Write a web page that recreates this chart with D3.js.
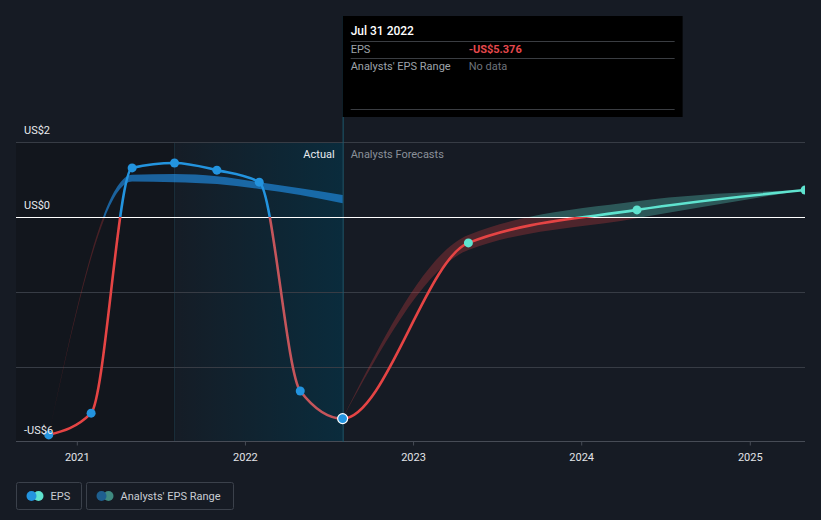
<!DOCTYPE html>
<meta charset="utf-8">
<style>

body {
  margin: 0;
  background-color: #161b24;
  overflow: hidden;
  font-family: Roboto, "Open Sans", sans-serif;
}

</style>
<body>

<script src="https://d3js.org/d3.v7.min.js"></script>
<script>
// Reported trailing EPS (quarterly)
var actualDates = ["2020-10-31", "2021-01-31", "2021-04-30", "2021-07-31", "2021-10-31", "2022-01-31", "2022-04-30", "2022-07-31"];
var actualEps = [-5.81, -5.23, 1.31, 1.44, 1.25, 0.93, -4.64, -5.376];

// Analyst consensus going forward
var forecastDates = ["2023-04-30", "2024-04-30", "2025-04-30"];
var forecastEps = [-0.69, 0.19, 0.72];

// Past analyst estimate range
var pastRangeDates = ["2020-10-31", "2021-04-30", "2021-07-31", "2021-10-31", "2022-01-31", "2022-04-30", "2022-07-31"];
var pastRangeLow = [-5.81, 0.95, 0.93, 0.88, 0.75, 0.59, 0.37];
var pastRangeHigh = [-5.81, 1.13, 1.15, 1.09, 0.93, 0.77, 0.59];

// Forecast range
var rangeDates = ["2022-07-31", "2023-04-30", "2024-04-30", "2025-04-30"];
var rangeLow = [-5.376, -0.88, -0.03, 0.72];
var rangeHigh = [-5.376, -0.48, 0.42, 0.72];

var yTicks = [2, 0, -2, -4, -6];
var yLabels = {"2": "US$2", "0": "US$0", "-6": "-US$6"};
var xTicks = ["2021-01-01", "2022-01-01", "2023-01-01", "2024-01-01", "2025-01-01"];

var width = 821, height = 520;
var plotLeft = 16, plotRight = 805, plotTop = 142, plotBottom = 442;

var parse = d3.timeParse("%Y-%m-%d");

var x = d3.scaleTime()
    .domain([parse("2021-01-01"), parse("2025-01-01")])
    .range([77.3, 750.3]);

var y = d3.scaleLinear()
    .domain([-6, 2])
    .range([plotBottom, plotTop]);

var today = parse("2022-07-31");
var yearAgo = parse("2021-07-31");

var svg = d3.select("body").append("svg")
    .attr("width", width)
    .attr("height", height);

var defs = svg.append("defs");

var grad = defs.append("linearGradient")
    .attr("id", "hl")
    .attr("x1", 0).attr("x2", 1).attr("y1", 0).attr("y2", 0);
grad.append("stop").attr("offset", 0).attr("stop-color", "#003950").attr("stop-opacity", 0.05);
grad.append("stop").attr("offset", 1).attr("stop-color", "#003950").attr("stop-opacity", 0.55);

function clip(id, x0, x1, y0, y1) {
  defs.append("clipPath").attr("id", id)
    .append("rect")
      .attr("x", x0).attr("y", y0)
      .attr("width", x1 - x0).attr("height", y1 - y0);
}

clip("plot", plotLeft, plotRight, 0, plotBottom);
clip("pos", plotLeft, plotRight, 0, y(0));
clip("neg", plotLeft, plotRight, y(0), plotBottom);
clip("posPast", plotLeft, x(today), 0, y(0));
clip("posFut", x(today), plotRight, 0, y(0));
clip("negOld", plotLeft, x(yearAgo), y(0), plotBottom);
clip("negHl", x(yearAgo), x(today), y(0), plotBottom);
clip("negFut", x(today), plotRight, y(0), plotBottom);

// shaded past and last-year highlight
svg.append("rect")
    .attr("x", plotLeft).attr("y", plotTop)
    .attr("width", x(yearAgo) - plotLeft).attr("height", plotBottom - plotTop)
    .attr("fill", "#000").attr("opacity", 0.18);

svg.append("rect")
    .attr("x", x(yearAgo)).attr("y", plotTop)
    .attr("width", x(today) - x(yearAgo)).attr("height", plotBottom - plotTop)
    .attr("fill", "url(#hl)");

svg.append("line")
    .attr("x1", x(yearAgo)).attr("x2", x(yearAgo))
    .attr("y1", plotTop).attr("y2", plotBottom)
    .attr("stroke", "#1a2e3a").attr("stroke-width", 1);

// grid
svg.append("g").selectAll("line")
    .data(yTicks.filter(function(d) { return d !== 0 && d !== -6; }))
  .enter().append("line")
    .attr("x1", plotLeft).attr("x2", plotRight)
    .attr("y1", function(d) { return y(d) + 0.5; })
    .attr("y2", function(d) { return y(d) + 0.5; })
    .attr("stroke", "#373c45").attr("stroke-width", 1);

// x axis
var xAxis = svg.append("g")
    .attr("transform", "translate(0," + (plotBottom - 0.5) + ")");
xAxis.append("line")
    .attr("x1", plotLeft).attr("x2", plotRight)
    .attr("stroke", "#474c56");
xAxis.selectAll(".tick")
    .data(xTicks.map(parse))
  .enter().append("line")
    .attr("x1", x).attr("x2", x)
    .attr("y1", 0).attr("y2", 4)
    .attr("stroke", "#474c56");
xAxis.selectAll("text")
    .data(xTicks.map(parse))
  .enter().append("text")
    .attr("x", x).attr("y", 19)
    .attr("text-anchor", "middle")
    .attr("fill", "#e2e4e8")
    .style("font-size", "11px")
    .text(d3.timeFormat("%Y"));

// vertical "today" line
svg.append("line")
    .attr("x1", x(today) + 0.5).attr("x2", x(today) + 0.5)
    .attr("y1", 16).attr("y2", plotBottom)
    .attr("stroke", "#1c5a6e").attr("stroke-width", 1);

function band(dates, low, high) {
  var pts = dates.map(function(d, i) { return {date: parse(d), lo: low[i], hi: high[i]}; });
  return d3.area()
      .curve(d3.curveMonotoneX)
      .x(function(d) { return x(d.date); })
      .y0(function(d) { return y(d.lo); })
      .y1(function(d) { return y(d.hi); })(pts);
}

var bands = svg.append("g").attr("clip-path", "url(#plot)");
var pastBand = band(pastRangeDates, pastRangeLow, pastRangeHigh);
var futBand = band(rangeDates, rangeLow, rangeHigh);

bands.append("path").attr("d", pastBand).attr("clip-path", "url(#pos)")
    .attr("fill", "#2196f3").attr("opacity", 0.6);
bands.append("path").attr("d", pastBand).attr("clip-path", "url(#neg)")
    .attr("fill", "#e64141").attr("opacity", 0.25);
bands.append("path").attr("d", futBand).attr("clip-path", "url(#pos)")
    .attr("fill", "#5fe3cf").attr("opacity", 0.3);
bands.append("path").attr("d", futBand).attr("clip-path", "url(#neg)")
    .attr("fill", "#e64141").attr("opacity", 0.27);

// zero line
svg.append("line")
    .attr("x1", plotLeft).attr("x2", plotRight)
    .attr("y1", y(0) + 0.5).attr("y2", y(0) + 0.5)
    .attr("stroke", "#ffffff").attr("stroke-width", 1.2);

// EPS line: actual then forecast
var actual = actualDates.map(function(d, i) { return {date: parse(d), v: actualEps[i]}; });
var forecast = forecastDates.map(function(d, i) { return {date: parse(d), v: forecastEps[i]}; });
var all = actual.concat(forecast);

var line = d3.line()
    .curve(d3.curveMonotoneX)
    .x(function(d) { return x(d.date); })
    .y(function(d) { return y(d.v); });

var lines = svg.append("g").attr("clip-path", "url(#plot)");
[["posPast", "#2394df"], ["posFut", "#5fe3cf"], ["negOld", "#e54444"], ["negHl", "#c5555b"], ["negFut", "#e54444"]]
  .forEach(function(c) {
    lines.append("path")
        .attr("d", line(all))
        .attr("clip-path", "url(#" + c[0] + ")")
        .attr("fill", "none")
        .attr("stroke", c[1])
        .attr("stroke-width", 2.6);
  });

// dots
var dots = svg.append("g").attr("clip-path", "url(#plot)");
dots.selectAll(".a")
    .data(actual)
  .enter().append("circle")
    .attr("cx", function(d) { return x(d.date); })
    .attr("cy", function(d) { return y(d.v); })
    .attr("r", function(d, i) { return i === actual.length - 1 ? 5 : 4.5; })
    .attr("fill", "#2394df")
    .attr("stroke", function(d, i) { return i === actual.length - 1 ? "#ffffff" : "none"; })
    .attr("stroke-width", 1.2);
dots.selectAll(".f")
    .data(forecast)
  .enter().append("circle")
    .attr("cx", function(d) { return x(d.date); })
    .attr("cy", function(d) { return y(d.v); })
    .attr("r", 4.5)
    .attr("fill", "#5fe3cf");

// y labels
svg.append("g").selectAll("text")
    .data(yTicks.filter(function(d) { return yLabels[d]; }))
  .enter().append("text")
    .attr("x", 24)
    .attr("y", function(d) { return y(d) - 8; })
    .attr("fill", "#e8eaee")
    .style("font-size", "11px")
    .text(function(d) { return yLabels[d]; });

// section labels
svg.append("text")
    .attr("x", x(today) - 8).attr("y", 158)
    .attr("text-anchor", "end")
    .attr("fill", "#e8eaee")
    .style("font-size", "11px")
    .text("Actual");
svg.append("text")
    .attr("x", x(today) + 8).attr("y", 158)
    .attr("fill", "#8a9099")
    .style("font-size", "11px")
    .text("Analysts Forecasts");

// tooltip
var tip = svg.append("g").attr("transform", "translate(" + x(today) + ",16)");
tip.append("rect")
    .attr("width", 340).attr("height", 101)
    .attr("fill", "#000");
tip.selectAll("line")
    .data([25, 42, 93])
  .enter().append("line")
    .attr("x1", 8).attr("x2", 332)
    .attr("y1", function(d) { return d + 0.5; })
    .attr("y2", function(d) { return d + 0.5; })
    .attr("stroke", "#3a3d42");
tip.append("text")
    .attr("x", 8).attr("y", 19)
    .attr("fill", "#ffffff")
    .style("font-size", "12px")
    .style("font-weight", 500)
    .text("Jul 31 2022");
tip.append("text")
    .attr("x", 8).attr("y", 37)
    .attr("fill", "#9ea3aa")
    .style("font-size", "11px")
    .text("EPS");
tip.append("text")
    .attr("x", 126).attr("y", 37)
    .attr("fill", "#e5484d")
    .style("font-size", "11px")
    .style("font-weight", 700)
    .text("-US$" + (-actualEps[actualEps.length - 1]).toFixed(3));
tip.append("text")
    .attr("x", 8).attr("y", 54)
    .attr("fill", "#9ea3aa")
    .style("font-size", "11px")
    .text("Analysts' EPS Range");
tip.append("text")
    .attr("x", 126).attr("y", 54)
    .attr("fill", "#6e737a")
    .style("font-size", "11px")
    .text("No data");

// legend
var legend = svg.append("g").attr("transform", "translate(16.5,482.5)");
var items = [
  {label: "EPS", w: 65, c: ["#2394df", "#5fe3cf"]},
  {label: "Analysts' EPS Range", w: 147, c: ["#1e5f8f", "#3f8a80"]}
];
var lx = 0;
items.forEach(function(it) {
  var g = legend.append("g").attr("transform", "translate(" + lx + ",0)");
  g.append("rect")
      .attr("width", it.w).attr("height", 27).attr("rx", 2)
      .attr("fill", "none").attr("stroke", "#3b414b");
  g.append("circle").attr("cx", 22).attr("cy", 13.5).attr("r", 5).attr("fill", it.c[1]);
  g.append("circle").attr("cx", 15).attr("cy", 13.5).attr("r", 5).attr("fill", it.c[0]);
  g.append("text")
      .attr("x", 34).attr("y", 17.5)
      .attr("fill", "#c9cdd3")
      .style("font-size", "11px")
      .text(it.label);
  lx += it.w + 5;
});

</script>
